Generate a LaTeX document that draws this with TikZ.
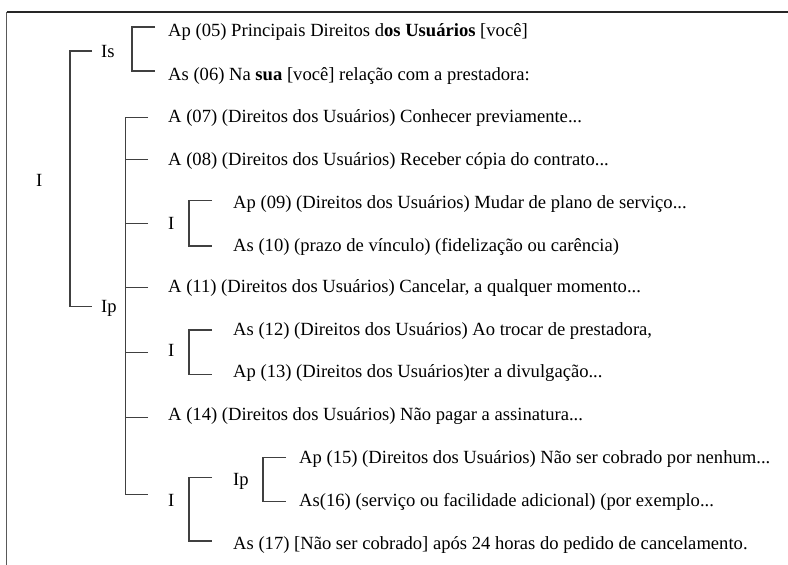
\documentclass[tikz,border=0pt]{standalone}
\usepackage{fontspec}
\setmainfont{Liberation Serif}
\begin{document}
\begin{tikzpicture}[x=1pt,y=-1pt,
  txt/.style={anchor=base west,inner sep=0pt,font=\fontsize{18.6}{21}\selectfont,text=black},
  brk/.style={draw=black!75,line width=1.2pt},
  frame/.style={line width=1.3pt}]
\useasboundingbox (0,0) rectangle (788,565);
% frame
\coordinate (fl) at (6.5,565);
\coordinate (fc) at (6.5,12);
\coordinate (fr) at (788,12);
\draw[frame,draw=black!65] (fl) -- (fc);
\draw[frame,draw=black!85] (fc) -- (fr);
% labels
\node[txt] (I0) at (36,186.7) {I};
\node[txt] (Is) at (101,57.3) {Is};
\node[txt] (Ip) at (101,312.7) {Ip};
\node[txt] (t05) at (168,36.7) {Ap (05) Principais Direitos d\textbf{os Usuários} [você]};
\node[txt] (t06) at (168,80) {As (06) Na \textbf{sua} [você] relação com a prestadora:};
\node[txt] (t07) at (168,122.7) {A (07) (Direitos dos Usuários) Conhecer previamente...};
\node[txt] (t08) at (168,165.7) {A (08) (Direitos dos Usuários) Receber cópia do contrato...};
\node[txt] (Ia) at (168,229) {I};
\node[txt] (t09) at (233,208.3) {Ap (09) (Direitos dos Usuários) Mudar de plano de serviço...};
\node[txt] (t10) at (233,251) {As (10) (prazo de vínculo) (fidelização ou carência)};
\node[txt] (t11) at (168,292.7) {A (11) (Direitos dos Usuários) Cancelar, a qualquer momento...};
\node[txt] (Ib) at (168,356.7) {I};
\node[txt] (t12) at (233,335.7) {As (12) (Direitos dos Usuários) Ao trocar de prestadora,};
\node[txt] (t13) at (233,377.7) {Ap (13) (Direitos dos Usuários)ter a divulgação...};
\node[txt] (t14) at (168,420.7) {A (14) (Direitos dos Usuários) Não pagar a assinatura...};
\node[txt] (Ic) at (168,506) {I};
\node[txt] (Ipc) at (233,485.7) {Ip};
\node[txt] (t15) at (299,463.3) {Ap (15) (Direitos dos Usuários) Não ser cobrado por nenhum...};
\node[txt] (t16) at (299,506) {As(16) (serviço ou facilidade adicional) (por exemplo...};
\node[txt] (t17) at (233,549) {As (17) [Não ser cobrado] após 24 horas do pedido de cancelamento.};
% bracket tick ends
\coordinate (eIs) at (92,51);
\coordinate (eIp) at (92,306.7);
\coordinate (e05) at (155,27);
\coordinate (e06) at (155,71);
\coordinate (e07) at (148,117.3);
\coordinate (e08) at (148,159.3);
\coordinate (eIa) at (148,223.7);
\coordinate (e11) at (148,287.3);
\coordinate (eIb) at (148,352.3);
\coordinate (e14) at (148,417.3);
\coordinate (eIc) at (148,494.3);
\coordinate (e09) at (212,200.7);
\coordinate (e10) at (212,246);
\coordinate (e12) at (212,330);
\coordinate (e13) at (212,374.3);
\coordinate (eIpc) at (212,477.7);
\coordinate (e17) at (212,541);
\coordinate (e15) at (286,457.7);
\coordinate (e16) at (286,501.7);
% brackets
\draw[brk] (eIs) -- ++(-22,0) |- (eIp);
\draw[brk] (e05) -- ++(-23,0) |- (e06);
\draw[brk] (e07) -- ++(-22.3,0) |- (eIc);
\foreach \c in {e08,eIa,e11,eIb,e14}{\draw[brk] (\c) -- (125.7,0 |- \c);}
\draw[brk] (e09) -- ++(-23,0) |- (e10);
\draw[brk] (e12) -- ++(-23,0) |- (e13);
\draw[brk] (eIpc) -- ++(-23,0) |- (e17);
\draw[brk] (e15) -- ++(-23,0) |- (e16);
\end{tikzpicture}
\end{document}
